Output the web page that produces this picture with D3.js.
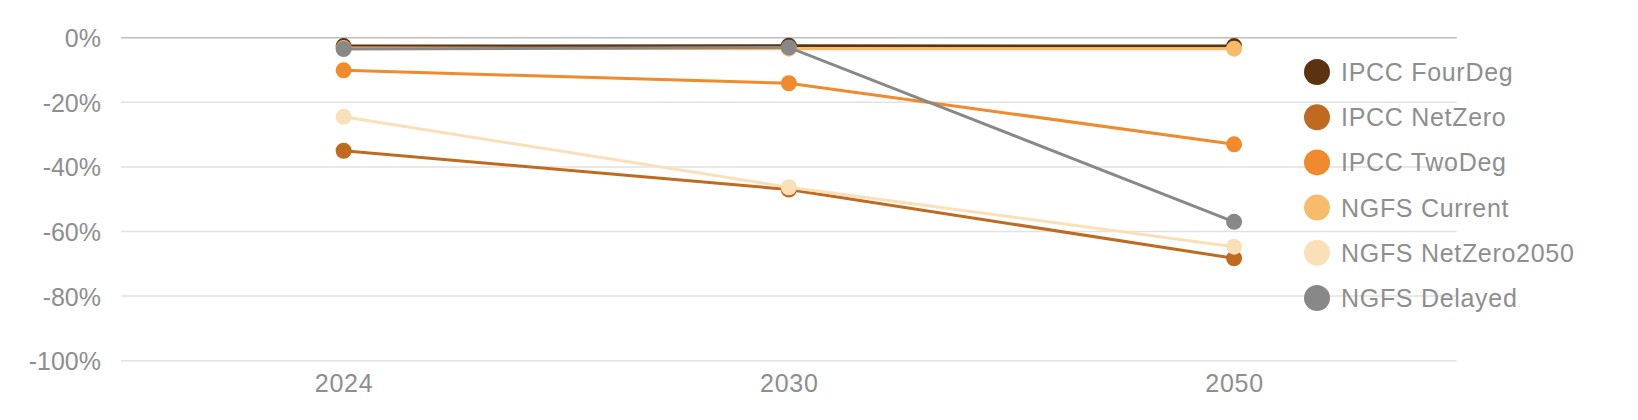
<!DOCTYPE html>
<html><head><meta charset="utf-8">
<script src="https://cdn.jsdelivr.net/npm/d3@7/dist/d3.min.js"></script>
<style>
html,body{margin:0;padding:0;background:#fff;}
text{font-family:"Liberation Sans",Arial,sans-serif;}
</style></head>
<body><svg id="c" width="1638" height="420"></svg>
<script>
const years = ["2024","2030","2050"];
const seriesNames = ["IPCC FourDeg","IPCC NetZero","IPCC TwoDeg","NGFS Current","NGFS NetZero2050","NGFS Delayed"];
const seriesColors = ["#5c3310","#c06a20","#f08a2c","#f6bc6c","#fae0b8","#888888"];
const ipccFourDeg = [-2.6, -2.5, -2.6];
const ipccNetZero = [-35, -47, -68.3];
const ipccTwoDeg = [-10.1, -14.1, -33];
const ngfsCurrent = [-3.2, -3.4, -3.4];
const ngfsNetZero2050 = [-24.5, -46.3, -64.7];
const ngfsDelayed = [-3.5, -3.0, -57];
const yTicks = [0, -20, -40, -60, -80, -100];

const seriesValues = [ipccFourDeg, ipccNetZero, ipccTwoDeg, ngfsCurrent, ngfsNetZero2050, ngfsDelayed];

const svg = d3.select("#c");
const pLeft = 121, pRight = 1456.7, pTop = 37.7, pBottom = 360.7;
const x = d3.scalePoint().domain(years).range([pLeft, pRight]).padding(0.5);
const y = d3.scaleLinear().domain([0, -100]).range([pTop, pBottom]);
const textColor = "#8e8e8e";

// gridlines
svg.append("g").selectAll("line").data(yTicks).join("line")
  .attr("x1", pLeft).attr("x2", pRight)
  .attr("y1", d => y(d)).attr("y2", d => y(d))
  .attr("stroke", d => d === 0 ? "#bdbdbd" : "#e2e2e2")
  .attr("stroke-width", 1.5);

// y axis
const yAxis = svg.append("g").attr("transform", `translate(${pLeft - 20},0)`)
  .call(d3.axisLeft(y).tickValues(yTicks).tickSize(0).tickFormat(d => d + "%"));
yAxis.select(".domain").remove();
yAxis.selectAll("text").attr("fill", textColor).attr("font-size", 25)
  .attr("font-family", "Liberation Sans, Arial, sans-serif").attr("dy", "0.36em").attr("x", 0);

// x axis
const xAxis = svg.append("g").attr("transform", `translate(0,${pBottom + 8})`)
  .call(d3.axisBottom(x).tickSize(0));
xAxis.select(".domain").remove();
xAxis.selectAll("text").attr("fill", textColor).attr("font-size", 25)
  .attr("letter-spacing", "0.8px")
  .attr("font-family", "Liberation Sans, Arial, sans-serif").attr("dy", "0.71em").attr("y", 6);

const line = d3.line().x((d, i) => x(years[i])).y(d => y(d));

seriesValues.forEach((vals, si) => {
  const g = svg.append("g");
  g.append("path").datum(vals).attr("d", line)
    .attr("fill", "none").attr("stroke", seriesColors[si]).attr("stroke-width", 3);
  g.selectAll("circle").data(vals).join("circle")
    .attr("cx", (d, i) => x(years[i])).attr("cy", d => y(d)).attr("r", 8)
    .attr("fill", seriesColors[si]);
});

// legend
const lg = svg.append("g");
seriesNames.forEach((name, i) => {
  const cy = 72 + i * 45.2;
  lg.append("circle").attr("cx", 1317).attr("cy", cy).attr("r", 13).attr("fill", seriesColors[i]);
  lg.append("text").attr("x", 1341).attr("y", cy).attr("dy", "0.36em")
    .attr("font-size", 25).attr("letter-spacing", "0.7px").attr("fill", textColor).text(name);
});
</script></body></html>
